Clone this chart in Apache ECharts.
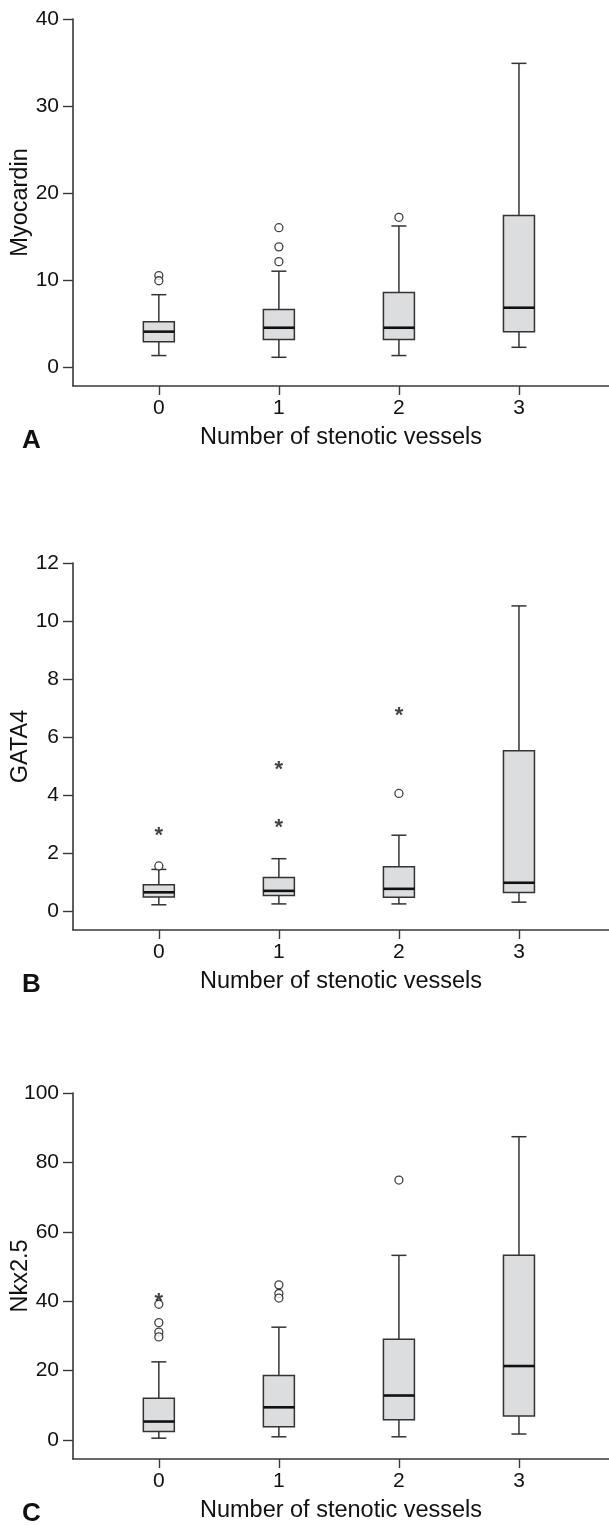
<!DOCTYPE html>
<html>
<head>
<meta charset="utf-8">
<script src="https://cdn.jsdelivr.net/npm/echarts@6/dist/echarts.min.js"></script>
<style>
  html, body { margin: 0; padding: 0; background: #fff; }
  #chart { width: 609px; height: 1525px; }
</style>
</head>
<body>
<div id="chart"></div>
<script>
// categories (number of stenotic vessels)
const categories = [0, 1, 2, 3];

// boxes: [lower whisker, Q1, median, Q3, upper whisker]
const myocardinBoxes = [
  [1.3, 2.9, 4.05, 5.2, 8.3],
  [1.1, 3.15, 4.5, 6.6, 11.0],
  [1.3, 3.15, 4.5, 8.55, 16.2],
  [2.25, 4.05, 6.8, 17.4, 34.9]
];
const myocardinCircles = [[0, 10.5], [0, 9.9], [1, 16.0], [1, 13.8], [1, 12.1], [2, 17.2]];
const myocardinStars = [];

const gata4Boxes = [
  [0.21, 0.48, 0.64, 0.9, 1.43],
  [0.24, 0.53, 0.69, 1.15, 1.8],
  [0.24, 0.47, 0.76, 1.52, 2.61],
  [0.3, 0.63, 0.97, 5.52, 10.52]
];
const gata4Circles = [[0, 1.55], [2, 4.05]];
const gata4Stars = [[0, 2.76], [1, 5.03], [1, 3.03], [2, 6.9]];

const nkxBoxes = [
  [0.5, 2.4, 5.3, 12.0, 22.5],
  [0.9, 3.8, 9.4, 18.6, 32.5],
  [0.9, 5.8, 12.8, 29.0, 53.2],
  [1.7, 6.9, 21.3, 53.2, 87.4]
];
const nkxCircles = [[0, 39.1], [0, 33.8], [0, 31.1], [0, 29.7], [1, 44.7], [1, 42.2], [1, 40.9], [2, 74.9]];
const nkxStars = [[0, 41.2]];

// y tick labels per panel
const myocardinTicks = [0, 10, 20, 30, 40];
const gata4Ticks = [0, 2, 4, 6, 8, 10, 12];
const nkxTicks = [0, 20, 40, 60, 80, 100];

const FONT = 'Liberation Sans, Arial, sans-serif';
const AXIS_COLOR = '#383838';

const chart = echarts.init(document.getElementById('chart'));

function renderBox(params, api) {
  const x = api.value(0);
  const lo = api.coord([x, api.value(1)]);
  const q1 = api.coord([x, api.value(2)]);
  const med = api.coord([x, api.value(3)]);
  const q3 = api.coord([x, api.value(4)]);
  const hi = api.coord([x, api.value(5)]);
  const cx = lo[0];
  const bw = 31, cw = 15;
  const ls = { stroke: '#333', lineWidth: 1.5 };
  return {
    type: 'group',
    children: [
      { type: 'line', shape: { x1: cx, y1: hi[1], x2: cx, y2: q3[1] }, style: ls },
      { type: 'line', shape: { x1: cx, y1: q1[1], x2: cx, y2: lo[1] }, style: ls },
      { type: 'line', shape: { x1: cx - cw / 2, y1: hi[1], x2: cx + cw / 2, y2: hi[1] }, style: ls },
      { type: 'line', shape: { x1: cx - cw / 2, y1: lo[1], x2: cx + cw / 2, y2: lo[1] }, style: ls },
      { type: 'rect', shape: { x: cx - bw / 2, y: q3[1], width: bw, height: q1[1] - q3[1] },
        style: { fill: '#dcdddf', stroke: '#333', lineWidth: 1.5 } },
      { type: 'line', shape: { x1: cx - bw / 2, y1: med[1], x2: cx + bw / 2, y2: med[1] },
        style: { stroke: '#111', lineWidth: 2.6 } }
    ]
  };
}

const panels = [
  { name: 'Myocardin', boxes: myocardinBoxes, circles: myocardinCircles, stars: myocardinStars,
    ticks: myocardinTicks, min: -2.2, max: 40, top: 19, height: 367, letter: 'A' },
  { name: 'GATA4', boxes: gata4Boxes, circles: gata4Circles, stars: gata4Stars,
    ticks: gata4Ticks, min: -0.66, max: 12, top: 563, height: 367, letter: 'B' },
  { name: 'Nkx2.5', boxes: nkxBoxes, circles: nkxCircles, stars: nkxStars,
    ticks: nkxTicks, min: -5.5, max: 100, top: 1093, height: 366, letter: 'C' }
];

const grid = [], xAxis = [], yAxis = [], series = [], graphic = [];

panels.forEach((p, i) => {
  grid.push({ left: 73, right: 0, top: p.top, height: p.height, containLabel: false, outerBoundsMode: 'none' });
  xAxis.push({
    type: 'value', gridIndex: i, min: -0.715, max: 3.75,
    name: 'Number of stenotic vessels', nameLocation: 'middle', nameGap: 40, nameMoveOverlap: false,
    nameTextStyle: { fontFamily: FONT, fontSize: 23.5, color: '#111' },
    axisLine: { onZero: false, lineStyle: { color: AXIS_COLOR, width: 1.6 } },
    axisTick: { show: true, length: 9, customValues: categories, lineStyle: { color: AXIS_COLOR, width: 1.4 } },
    axisLabel: { customValues: categories, margin: 12, fontFamily: FONT, fontSize: 21, color: '#111' },
    splitLine: { show: false }
  });
  yAxis.push({
    type: 'value', gridIndex: i, min: p.min, max: p.max,
    name: p.name, nameLocation: 'middle', nameGap: 40, nameRotate: 90, nameMoveOverlap: false,
    nameTextStyle: { fontFamily: FONT, fontSize: 23.5, color: '#111' },
    axisLine: { show: true, onZero: false, lineStyle: { color: AXIS_COLOR, width: 1.6 } },
    axisTick: { show: true, length: 10, customValues: p.ticks, lineStyle: { color: AXIS_COLOR, width: 1.4 } },
    axisLabel: { customValues: p.ticks, margin: 14, fontFamily: FONT, fontSize: 21, color: '#111' },
    splitLine: { show: false }
  });
  series.push({
    type: 'custom', xAxisIndex: i, yAxisIndex: i,
    renderItem: renderBox,
    encode: { x: 0, y: [1, 2, 3, 4, 5] },
    data: p.boxes.map((b, k) => [categories[k]].concat(b))
  });
  series.push({
    type: 'scatter', xAxisIndex: i, yAxisIndex: i,
    symbol: 'circle', symbolSize: 8,
    itemStyle: { color: '#fff', borderColor: '#111', borderWidth: 1.3 },
    data: p.circles, z: 3
  });
  series.push({
    type: 'scatter', xAxisIndex: i, yAxisIndex: i,
    symbol: 'circle', symbolSize: 2,
    itemStyle: { color: 'rgba(0,0,0,0)' },
    label: { show: true, position: 'inside', formatter: '*', fontFamily: FONT,
      fontSize: 22, fontWeight: 'bold', color: '#111', offset: [0, 5] },
    data: p.stars, z: 4
  });
  graphic.push({
    type: 'text', left: 22, top: p.top + p.height + 42,
    style: { text: p.letter, fontFamily: FONT, fontSize: 26, fontWeight: 'bold', fill: '#111' }
  });
});

chart.setOption({
  animation: false,
  grid, xAxis, yAxis, series, graphic
});
</script>
</body>
</html>
